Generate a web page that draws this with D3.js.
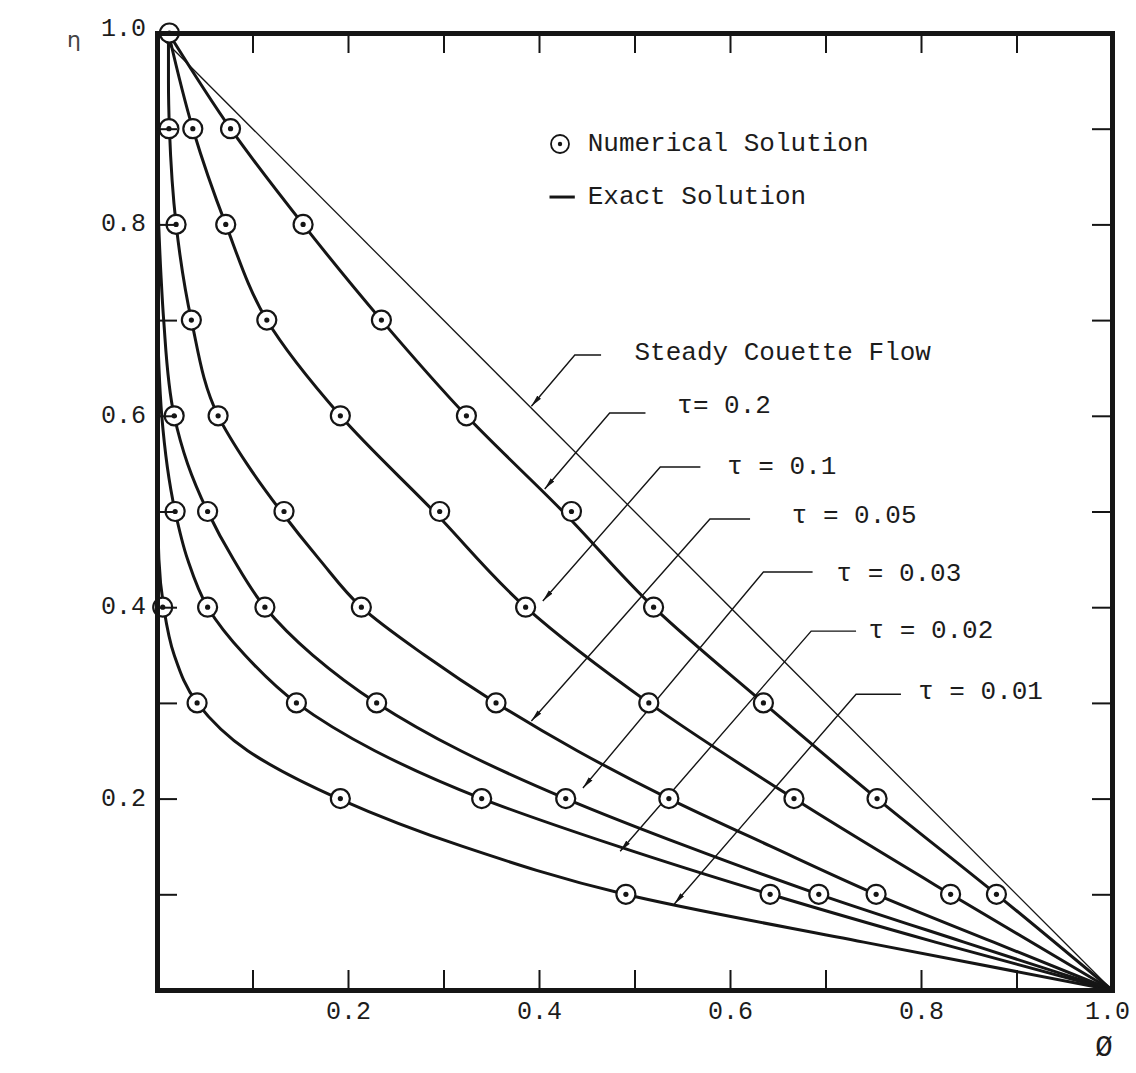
<!DOCTYPE html>
<html>
<head>
<meta charset="utf-8">
<script src="https://cdn.jsdelivr.net/npm/d3@7"></script>
<style>
  html, body { margin: 0; padding: 0; background: #fff; }
  svg { display: block; }
  text { font-family: "Liberation Mono", "DejaVu Sans Mono", monospace; fill: #1c1c1c; white-space: pre; }
</style>
</head>
<body>
<svg id="chart" width="1136" height="1073"></svg>
<script>
// ---- Series data: velocity phi versus height eta for each dimensionless time tau ----
const tauValues = [0.01, 0.02, 0.03, 0.05, 0.1, 0.2];
const tauLabels = ["τ = 0.01", "τ = 0.02", "τ = 0.03", "τ = 0.05", "τ = 0.1", "τ= 0.2"];

// Exact solution curves (eta, phi)
const exactEta001 = [0.55, 0.45, 0.4, 0.35, 0.3, 0.25, 0.2, 0.15, 0.1, 0.05, 0];
const exactPhi001 = [0, 0.002, 0.007, 0.018, 0.042, 0.095, 0.19, 0.32, 0.49, 0.74, 1];
const exactEta002 = [0.72, 0.6, 0.5, 0.45, 0.4, 0.35, 0.3, 0.25, 0.2, 0.15, 0.1, 0.05, 0];
const exactPhi002 = [0, 0.005, 0.019, 0.032, 0.053, 0.092, 0.146, 0.228, 0.34, 0.483, 0.642, 0.815, 1];
const exactEta003 = [0.85, 0.75, 0.7, 0.6, 0.55, 0.5, 0.45, 0.4, 0.35, 0.3, 0.25, 0.2, 0.15, 0.1, 0.05, 0];
const exactPhi003 = [0, 0.004, 0.007, 0.018, 0.032, 0.053, 0.08, 0.113, 0.163, 0.23, 0.318, 0.428, 0.555, 0.693, 0.845, 1];
const exactEta005 = [1, 0.95, 0.9, 0.8, 0.7, 0.6, 0.55, 0.5, 0.45, 0.4, 0.35, 0.3, 0.25, 0.2, 0.15, 0.1, 0.05, 0];
const exactPhi005 = [0.012, 0.012, 0.013, 0.02, 0.036, 0.064, 0.094, 0.13, 0.17, 0.214, 0.28, 0.355, 0.44, 0.536, 0.643, 0.753, 0.876, 1];
const exactEta01 = [1, 0.9, 0.8, 0.7, 0.6, 0.5, 0.4, 0.3, 0.2, 0.1, 0];
const exactPhi01 = [0.012, 0.0375, 0.072, 0.115, 0.192, 0.29, 0.386, 0.515, 0.667, 0.831, 1];
const exactEta02 = [1, 0.9, 0.8, 0.7, 0.6, 0.5, 0.4, 0.3, 0.2, 0.1, 0];
const exactPhi02 = [0.012, 0.077, 0.153, 0.235, 0.324, 0.425, 0.52, 0.635, 0.754, 0.879, 1];

// Numerical solution points (eta, phi)
const numEta001 = [0.4, 0.3, 0.2, 0.1];
const numPhi001 = [0.006, 0.042, 0.192, 0.491];
const numEta002 = [0.5, 0.4, 0.3, 0.2, 0.1];
const numPhi002 = [0.019, 0.053, 0.146, 0.34, 0.642];
const numEta003 = [0.6, 0.5, 0.4, 0.3, 0.2, 0.1];
const numPhi003 = [0.018, 0.053, 0.113, 0.23, 0.428, 0.693];
const numEta005 = [0.9, 0.8, 0.7, 0.6, 0.5, 0.4, 0.3, 0.2, 0.1];
const numPhi005 = [0.0125, 0.02, 0.036, 0.064, 0.133, 0.214, 0.355, 0.536, 0.753];
const numEta01 = [0.9, 0.8, 0.7, 0.6, 0.5, 0.4, 0.3, 0.2, 0.1];
const numPhi01 = [0.0375, 0.072, 0.115, 0.192, 0.296, 0.386, 0.515, 0.667, 0.831];
const numEta02 = [1, 0.9, 0.8, 0.7, 0.6, 0.5, 0.4, 0.3, 0.2, 0.1];
const numPhi02 = [0.013, 0.077, 0.153, 0.235, 0.324, 0.434, 0.52, 0.635, 0.754, 0.879];

// Steady Couette flow: straight line
const steadyEta = [1, 0];
const steadyPhi = [0, 1];

// Axis ticks
const minorTicks = [0.1, 0.2, 0.3, 0.4, 0.5, 0.6, 0.7, 0.8, 0.9];
const labelTicks = [0.2, 0.4, 0.6, 0.8, 1.0];

// ---- Assemble series ----
const exactSeries = [
  { eta: exactEta001, phi: exactPhi001 },
  { eta: exactEta002, phi: exactPhi002 },
  { eta: exactEta003, phi: exactPhi003 },
  { eta: exactEta005, phi: exactPhi005 },
  { eta: exactEta01,  phi: exactPhi01 },
  { eta: exactEta02,  phi: exactPhi02 }
];
const numericalSeries = [
  { eta: numEta001, phi: numPhi001 },
  { eta: numEta002, phi: numPhi002 },
  { eta: numEta003, phi: numPhi003 },
  { eta: numEta005, phi: numPhi005 },
  { eta: numEta01,  phi: numPhi01 },
  { eta: numEta02,  phi: numPhi02 }
];

// Leader annotations in (phi, eta) coordinates: tip on curve, elbow, end of bar, text start
const leaders = [
  { text: "Steady Couette Flow", tip: [0.392, 0.610], elbow: [0.4375, 0.6635], barEnd: 0.465, textAt: [0.50, 0.666] },
  { text: tauLabels[5], tip: [0.406, 0.5235], elbow: [0.474, 0.603], barEnd: 0.5115, textAt: [0.5448, 0.610] },
  { text: tauLabels[4], tip: [0.404, 0.4065], elbow: [0.527, 0.5465], barEnd: 0.569, textAt: [0.597, 0.5465] },
  { text: tauLabels[3], tip: [0.392, 0.281], elbow: [0.579, 0.4922], barEnd: 0.621, textAt: [0.6646, 0.4953] },
  { text: tauLabels[2], tip: [0.446, 0.211], elbow: [0.635, 0.4368], barEnd: 0.6865, textAt: [0.7115, 0.4347] },
  { text: tauLabels[1], tip: [0.485, 0.145], elbow: [0.685, 0.375], barEnd: 0.732, textAt: [0.745, 0.375] },
  { text: tauLabels[0], tip: [0.5417, 0.0899], elbow: [0.732, 0.309], barEnd: 0.779, textAt: [0.797, 0.3114] }
];

// ---- Scales ----
const svg = d3.select("#chart");
const x = d3.scaleLinear().domain([0, 1]).range([157, 1112]);
const y = d3.scaleLinear().domain([0, 1]).range([990, 33]);
const ink = "#151515";

// Arrowhead marker for leader lines
svg.append("defs").append("marker")
  .attr("id", "arrow")
  .attr("viewBox", "0 0 12 6")
  .attr("refX", 12).attr("refY", 3)
  .attr("markerWidth", 12).attr("markerHeight", 6)
  .attr("markerUnits", "userSpaceOnUse")
  .attr("orient", "auto")
  .append("path").attr("d", "M0,0.6 L12,3 L0,5.4 Z").attr("fill", ink);

const line = d3.line()
  .x(d => x(d[0]))
  .y(d => y(d[1]))
  .curve(d3.curveMonotoneY);

// Steady line (thin)
svg.append("path")
  .attr("d", line(steadyPhi.map((p, i) => [p, steadyEta[i]])))
  .attr("fill", "none").attr("stroke", ink).attr("stroke-width", 1.3);

// Exact solution curves
svg.append("g").selectAll("path")
  .data(exactSeries)
  .join("path")
  .attr("d", s => line(s.phi.map((p, i) => [p, s.eta[i]])))
  .attr("fill", "none")
  .attr("stroke", ink)
  .attr("stroke-width", 3)
  .attr("stroke-linejoin", "round");

// Leader lines with labels
const lg = svg.append("g");
leaders.forEach(a => {
  lg.append("path")
    .attr("d", `M${x(a.barEnd)},${y(a.elbow[1])} L${x(a.elbow[0])},${y(a.elbow[1])} L${x(a.tip[0])},${y(a.tip[1])}`)
    .attr("fill", "none").attr("stroke", ink).attr("stroke-width", 1.4)
    .attr("marker-end", "url(#arrow)");
  lg.append("text")
    .attr("x", x(a.textAt[0])).attr("y", y(a.textAt[1]))
    .attr("dominant-baseline", "central")
    .attr("font-size", 26)
    .text(a.text);
});

// Numerical solution markers
const points = numericalSeries.flatMap(s => s.phi.map((p, i) => [p, s.eta[i]]));
const mk = svg.append("g").selectAll("g").data(points).join("g")
  .attr("transform", d => `translate(${x(d[0])},${y(d[1])})`);
mk.append("circle").attr("r", 9.5).attr("fill", "#fff").attr("stroke", ink).attr("stroke-width", 2.2);
mk.append("circle").attr("r", 2.6).attr("fill", ink);

// Frame with inward ticks on all four sides
function styleFrame(g) {
  g.select(".domain").attr("stroke", ink).attr("stroke-width", 5).attr("stroke-linecap", "square");
  g.selectAll(".tick line").attr("stroke", ink).attr("stroke-width", 2);
  g.selectAll(".tick text").remove();
}
svg.append("g").attr("transform", `translate(0,${y(0)})`)
  .call(d3.axisBottom(x).tickValues(minorTicks).tickSize(-20).tickSizeOuter(0)).call(styleFrame);
svg.append("g").attr("transform", `translate(0,${y(1)})`)
  .call(d3.axisTop(x).tickValues(minorTicks).tickSize(-20).tickSizeOuter(0)).call(styleFrame);
svg.append("g").attr("transform", `translate(${x(0)},0)`)
  .call(d3.axisLeft(y).tickValues(minorTicks).tickSize(-20).tickSizeOuter(0)).call(styleFrame);
svg.append("g").attr("transform", `translate(${x(1)},0)`)
  .call(d3.axisRight(y).tickValues(minorTicks).tickSize(-20).tickSizeOuter(0)).call(styleFrame);

// Tick labels
const fmt = d3.format(".1f");
const xl = svg.append("g").attr("transform", `translate(0,${y(0)})`)
  .call(d3.axisBottom(x).tickValues(labelTicks).tickSize(0).tickFormat(fmt));
xl.select(".domain").remove();
xl.selectAll("text").attr("dy", null).attr("y", 22).attr("dominant-baseline", "central")
  .attr("font-size", 25).attr("font-family", null).style("fill", "#1c1c1c");
// keep the last label inside the frame's right edge
xl.selectAll(".tick").filter(d => d === 1).select("text").attr("x", -5);

const yl = svg.append("g").attr("transform", `translate(${x(0)},0)`)
  .call(d3.axisLeft(y).tickValues(labelTicks).tickSize(0).tickFormat(fmt));
yl.select(".domain").remove();
yl.selectAll("text").attr("dy", null).attr("x", -11).attr("dominant-baseline", "central")
  .attr("font-size", 25).attr("font-family", null).style("fill", "#1c1c1c");
yl.selectAll(".tick").filter(d => d === 1).select("text").attr("y", -4);

// Axis titles
svg.append("text").attr("x", x(0) - 90).attr("y", y(1) + 6)
  .attr("dominant-baseline", "central")
  .style("font-family", "'DejaVu Sans', sans-serif").attr("font-size", 22)
  .style("fill", "#444").text("η");
svg.append("text").attr("x", x(1) - 8).attr("y", y(0) + 58)
  .attr("text-anchor", "middle").attr("dominant-baseline", "central")
  .attr("font-size", 29).text("Ø");

// Legend
const legX = 0.422, legY1 = 0.884, legY2 = 0.8286;
const leg = svg.append("g");
leg.append("circle").attr("cx", x(legX)).attr("cy", y(legY1)).attr("r", 9)
  .attr("fill", "#fff").attr("stroke", ink).attr("stroke-width", 1.8);
leg.append("circle").attr("cx", x(legX)).attr("cy", y(legY1)).attr("r", 2.2).attr("fill", ink);
leg.append("text").attr("x", x(0.451)).attr("y", y(legY1)).attr("dominant-baseline", "central")
  .attr("font-size", 26).text("Numerical Solution");
leg.append("line").attr("x1", x(0.411)).attr("x2", x(0.4375)).attr("y1", y(legY2)).attr("y2", y(legY2))
  .attr("stroke", ink).attr("stroke-width", 3);
leg.append("text").attr("x", x(0.451)).attr("y", y(legY2)).attr("dominant-baseline", "central")
  .attr("font-size", 26).text("Exact Solution");
</script>
</body>
</html>
